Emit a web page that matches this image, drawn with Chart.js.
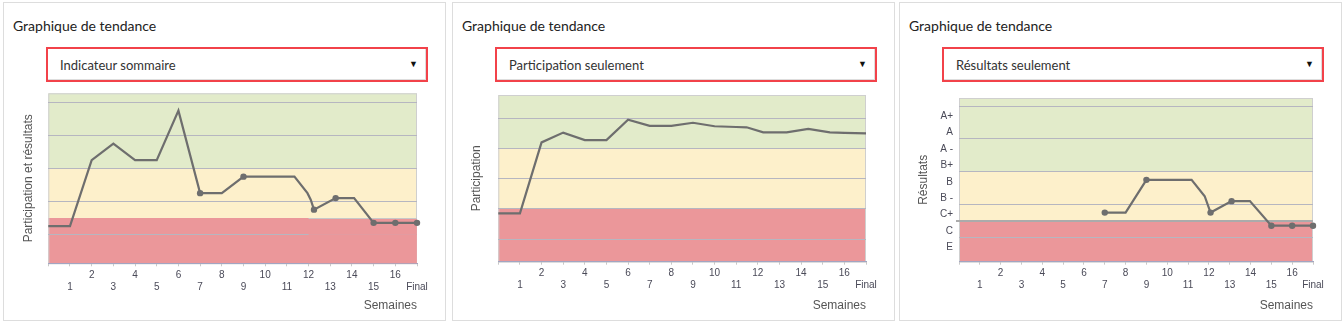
<!DOCTYPE html>
<html>
<head>
<meta charset="utf-8">
<title>Graphique de tendance</title>
<script src="https://cdn.jsdelivr.net/npm/chart.js@4"></script>
<style>
  body { margin: 0; background: #fff; }
  .panel { position: absolute; top: 2px; width: 443px; height: 319px; box-sizing: border-box; border: 1px solid #ddd; background: #fff; }
  .panel h2 { position: absolute; left: 9px; top: 14px; margin: 0; font: 400 14px Lato, sans-serif; color: #222; }
  .select { position: absolute; left: 42px; top: 44px; width: 382px; height: 35px; box-sizing: border-box; border: 2px solid #f2424a; box-shadow: inset 0 -1px 0 #ddd, inset -1px 0 0 #ddd; }
  .select span { position: absolute; left: 12px; top: 8px; font: 13px Lato, sans-serif; color: #333; }
  .select i { position: absolute; right: 8px; top: 10px; font-style: normal; font-size: 9px; color: #111; }
  .panel canvas { position: absolute; left: 0; top: 83px; }
</style>
</head>
<body>
<div class="panel" style="left:3px">
  <h2>Graphique de tendance</h2>
  <div class="select"><span>Indicateur sommaire</span><i>▼</i></div>
  <canvas id="c1" width="441" height="232"></canvas>
</div>
<div class="panel" style="left:452px">
  <h2>Graphique de tendance</h2>
  <div class="select"><span>Participation seulement</span><i>▼</i></div>
  <canvas id="c2" width="441" height="232"></canvas>
</div>
<div class="panel" style="left:899px">
  <h2>Graphique de tendance</h2>
  <div class="select"><span>Résultats seulement</span><i>▼</i></div>
  <canvas id="c3" width="441" height="232"></canvas>
</div>
<script>
// x axis: 0 = start, 1..16 = weeks, 17 = final
const weekLabels = ['', '1', '2', '3', '4', '5', '6', '7', '8', '9', '10', '11', '12', '13', '14', '15', '16', 'Final'];
const gradeLabels = ['E', 'C', 'C+', 'B -', 'B', 'B+', 'A -', 'A', 'A+'];
const gridValues = [1.5, 3.5, 5.5, 7.5, 9.5];

// Indicateur sommaire
const sumX = [0, 1, 2, 3, 4, 5, 6, 7, 8, 9, 10, 11, 11.35, 11.95, 12.1, 12.25, 13.25, 14.1, 15, 16, 17];
const sumY = [2.0, 2.0, 6.0, 7.0, 6.0, 6.0, 9.0, 4.0, 4.0, 5.0, 5.0, 5.0, 5.0, 4.0, 3.6, 3.0, 3.7, 3.7, 2.2, 2.2, 2.2];
const sumHasResult = [0, 0, 0, 0, 0, 0, 0, 1, 0, 1, 0, 0, 0, 0, 0, 1, 1, 0, 1, 1, 1];

// Participation seulement
const partX = [0, 1, 2, 3, 4, 5, 6, 7, 8, 9, 10, 11, 11.48, 12.25, 13.33, 14.33, 15.33, 16, 17];
const partY = [3.2, 3.2, 7.9, 8.55, 8.05, 8.05, 9.4, 9.0, 9.0, 9.2, 8.97, 8.92, 8.9, 8.57, 8.57, 8.8, 8.57, 8.53, 8.5];

// Résultats seulement
const resX = [7, 8, 9, 11.17, 11.8, 12.08, 13.09, 13.97, 15, 16, 17];
const resY = [3, 3, 5, 5, 4, 3, 3.7, 3.7, 2.2, 2.2, 2.2];
const resHasResult = [1, 0, 1, 0, 0, 1, 1, 0, 1, 1, 1];

const bandColors = ['#eb979a', '#fdf0cb', '#e2ebca'];

Chart.defaults.font.family = '"Liberation Sans", Arial, sans-serif';
Chart.defaults.animation = false;

const bandsPlugin = {
  id: 'bands',
  beforeDraw(chart, args, opts) {
    const { ctx, chartArea: a, scales: { y } } = chart;
    const cuts = [y.min, opts.low, opts.high, y.max];
    ctx.save();
    bandColors.forEach((c, i) => {
      const top = y.getPixelForValue(cuts[i + 1]);
      const bot = y.getPixelForValue(cuts[i]);
      ctx.fillStyle = c;
      ctx.fillRect(a.left, top, a.width, bot - top);
    });
    ctx.strokeStyle = '#cfcfcf';
    ctx.lineWidth = 1;
    ctx.strokeRect(a.left + 0.5, a.top + 0.5, a.width - 1, a.height);
    ctx.restore();
  },
  beforeDatasetsDraw(chart, args, opts) {
    const { ctx, chartArea: a, scales: { x, y } } = chart;
    const py = Math.round(y.getPixelForValue(opts.low));
    ctx.save();
    if (opts.maskFrom != null) {
      const px = x.getPixelForValue(opts.maskFrom);
      ctx.globalAlpha = 0.85;
      ctx.fillStyle = bandColors[0];
      ctx.fillRect(px, py, a.right - px, a.bottom - py);
      ctx.globalAlpha = 1;
      ctx.strokeStyle = '#c8c8c8';
      ctx.lineWidth = 1;
      ctx.beginPath();
      ctx.moveTo(px, py + 0.5);
      ctx.lineTo(a.right, py + 0.5);
      ctx.stroke();
    }
    if (opts.rule) {
      ctx.strokeStyle = '#ababab';
      ctx.lineWidth = 2;
      ctx.beginPath();
      ctx.moveTo(a.left - 3, py);
      ctx.lineTo(a.right, py);
      ctx.stroke();
    }
    ctx.restore();
  }
};

function makeChart(id, cfg) {
  const yTicks = cfg.labels ? [...gridValues, 1, 2, 3, 4, 5, 6, 7, 8, 9].sort((a, b) => a - b) : gridValues;
  new Chart(document.getElementById(id), {
    type: 'line',
    plugins: [bandsPlugin],
    data: {
      datasets: [{
        data: cfg.xs.map((x, i) => ({ x, y: cfg.ys[i] })),
        borderColor: '#6e6e6e',
        backgroundColor: '#6e6e6e',
        borderWidth: 2.2,
        tension: 0,
        clip: false,
        pointRadius: ctx => (cfg.marks && cfg.marks[ctx.dataIndex]) ? 3.2 : 0,
        pointBorderWidth: 0,
        pointHoverRadius: 0
      }]
    },
    options: {
      responsive: false,
      layout: { padding: { top: cfg.top, right: 28, left: 0, bottom: 0 } },
      plugins: {
        legend: { display: false },
        tooltip: { enabled: false },
        bands: { low: cfg.low, high: cfg.high, maskFrom: cfg.maskFrom, rule: cfg.rule }
      },
      scales: {
        x: {
          type: 'linear',
          min: 0,
          max: 17,
          afterFit: s => { s.height = cfg.xHeight; },
          ticks: {
            stepSize: 1,
            autoSkip: false,
            maxRotation: 0,
            minRotation: 0,
            padding: 3,
            color: '#4a4a58',
            font: { size: 10 },
            callback: v => {
              const t = weekLabels[v];
              return v % 2 ? ['', t] : [t, ''];
            }
          },
          grid: { drawOnChartArea: false, drawTicks: true, tickLength: 3, color: '#c8c8c8' },
          border: { display: true, color: '#a2a5c2', width: 1 },
          title: {
            display: true,
            text: 'Semaines',
            align: 'end',
            color: '#555',
            font: { size: 12 },
            padding: { top: 0, bottom: 5 }
          }
        },
        y: {
          type: 'linear',
          min: cfg.min,
          max: cfg.max,
          afterBuildTicks: s => { s.ticks = yTicks.map(v => ({ value: v })); },
          afterFit: s => { s.width = cfg.yWidth; },
          ticks: {
            display: !!cfg.labels,
            autoSkip: false,
            padding: 6,
            labelOffset: 2,
            color: '#4a4a58',
            font: { size: 10 },
            callback: v => Number.isInteger(v) ? gradeLabels[v - 1] : ''
          },
          grid: {
            drawTicks: false,
            color: ctx => gridValues.includes(ctx.tick.value) ? '#b6b6c0' : 'rgba(0,0,0,0)'
          },
          border: { display: false },
          title: {
            display: true,
            text: cfg.title,
            color: '#555',
            font: { size: 12 },
            padding: { top: cfg.titlePad, bottom: 0 }
          }
        }
      }
    }
  });
}

makeChart('c1', {
  xs: sumX, ys: sumY, marks: sumHasResult,
  min: -0.25, max: 10.05, low: 2.5, high: 5.5,
  top: 7.3, xHeight: 54.7, yWidth: 44.3, titlePad: 17.8,
  title: 'Participation et résultats', maskFrom: 12
});
makeChart('c2', {
  xs: partX, ys: partY,
  min: 0, max: 11.04, low: 3.5, high: 7.5,
  top: 9, xHeight: 56.3, yWidth: 45.3, titlePad: 16.8,
  title: 'Participation'
});
makeChart('c3', {
  xs: resX, ys: resY, marks: resHasResult,
  min: 0, max: 10, low: 2.5, high: 5.5,
  top: 10.7, xHeight: 56.3, yWidth: 59, titlePad: 16.1,
  title: 'Résultats', labels: true, rule: true
});
</script>
</body>
</html>
